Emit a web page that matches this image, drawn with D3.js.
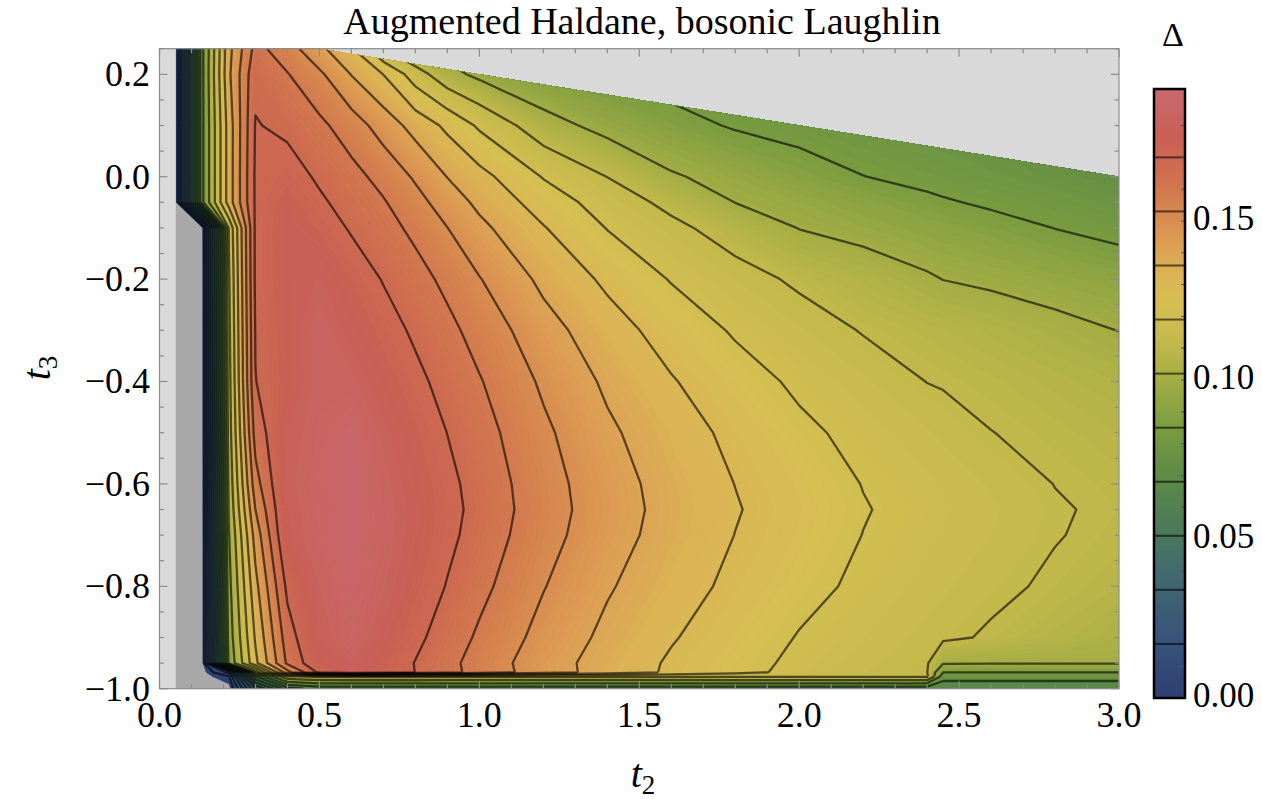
<!DOCTYPE html>
<html><head><meta charset="utf-8">
<script src="https://cdn.jsdelivr.net/npm/d3@7"></script>
<style>
body{margin:0;background:#fff;}
svg{display:block;font-family:"Liberation Serif","Times New Roman",serif;}
</style></head><body>
<svg id="chart" width="1262" height="799"></svg>
<script>
// ---------------- data ----------------
const t2Nodes = [0.05,0.133,0.217,0.3,0.4,0.5,0.6,0.7,0.8,0.9,1.0,1.2,1.4,1.6,1.8,2.0,2.2,2.4,2.45,2.6,2.8,3.0];
const t3Nodes = [0.25,0.2,0.1,0.0,-0.05,-0.1,-0.2,-0.3,-0.4,-0.5,-0.6,-0.65,-0.7,-0.8,-0.9,-0.95,-0.968,-0.976,-1.0];
const gapGrid = [
 [0,0.100,0.142,0.1642,0.1567,0.1466,0.1369,0.1188,0.110,0.1073,0.1047,0.1011,0.0993,0.0975,0.0957,0.0939,0.0922,0.0904,0.0899,0.0886,0.0868,0.085],
 [0,0.100,0.143,0.168,0.1619,0.1546,0.1442,0.1359,0.1232,0.1133,0.1086,0.1033,0.1008,0.0992,0.0976,0.096,0.0944,0.0928,0.0924,0.0912,0.0896,0.088],
 [0,0.100,0.140,0.1705,0.1681,0.1634,0.1572,0.1493,0.1414,0.1342,0.1262,0.1138,0.1078,0.1042,0.1014,0.0998,0.0983,0.0967,0.0963,0.0951,0.0936,0.092],
 [0,0.100,0.140,0.1712,0.1738,0.1687,0.1642,0.1588,0.1519,0.1443,0.1388,0.127,0.1189,0.1113,0.1079,0.1049,0.1021,0.1003,0.0998,0.0985,0.0968,0.095],
 [0,0.100,0.140,0.1711,0.1769,0.1714,0.1666,0.1622,0.1559,0.149,0.1426,0.1323,0.1236,0.1168,0.1104,0.1081,0.1056,0.1032,0.1026,0.1011,0.0993,0.0975],
 [0,0,0.120,0.1715,0.1778,0.1745,0.1691,0.1646,0.1595,0.1531,0.1465,0.1365,0.1272,0.121,0.1153,0.1103,0.1082,0.1061,0.1057,0.1041,0.1019,0.100],
 [0,0,0.118,0.1715,0.1777,0.1804,0.1749,0.1695,0.1647,0.1594,0.1534,0.1426,0.1344,0.127,0.122,0.1177,0.1145,0.1113,0.1104,0.1093,0.1076,0.106],
 [0,0,0.117,0.1705,0.1773,0.184,0.1788,0.1736,0.1686,0.1637,0.1584,0.1477,0.1395,0.1326,0.1266,0.1224,0.1186,0.1166,0.1161,0.1146,0.1125,0.1104],
 [0,0,0.116,0.1698,0.1766,0.1833,0.1828,0.1775,0.1721,0.1671,0.1621,0.1517,0.1431,0.1366,0.1309,0.1261,0.1225,0.1189,0.1185,0.1173,0.1156,0.114],
 [0,0,0.115,0.165,0.180,0.1845,0.1879,0.1813,0.1756,0.1699,0.1648,0.1546,0.1459,0.1396,0.1341,0.1291,0.1254,0.1223,0.1215,0.1191,0.1175,0.116],
 [0,0,0.113,0.158,0.181,0.1855,0.189,0.1834,0.1778,0.1722,0.1667,0.1564,0.1479,0.1414,0.1359,0.1316,0.1273,0.1245,0.1238,0.1217,0.1189,0.1175],
 [0,0,0.112,0.153,0.180,0.1855,0.1885,0.1844,0.1786,0.1729,0.1672,0.1568,0.1484,0.1418,0.1365,0.1322,0.1279,0.1251,0.1244,0.1225,0.1195,0.118],
 [0,0,0.110,0.148,0.179,0.1855,0.1885,0.1842,0.1782,0.1722,0.1664,0.1561,0.1477,0.1414,0.1359,0.1317,0.1274,0.1247,0.124,0.122,0.1193,0.1175],
 [0,0,0.108,0.142,0.172,0.182,0.187,0.1827,0.176,0.1695,0.1638,0.1534,0.1453,0.1394,0.1342,0.1297,0.1261,0.1233,0.1225,0.1204,0.118,0.116],
 [0,0,0.106,0.137,0.166,0.180,0.1855,0.1788,0.172,0.166,0.1602,0.1502,0.1426,0.1366,0.1317,0.1271,0.1241,0.1211,0.1203,0.1182,0.1156,0.113],
 [0,0,0.104,0.134,0.163,0.177,0.182,0.1758,0.1697,0.1639,0.1581,0.1483,0.141,0.135,0.1301,0.126,0.1228,0.1196,0.1112,0.1111,0.111,0.111],
 [0,0,0.020,0.105,0.150,0.172,0.179,0.175,0.1699,0.1641,0.1585,0.1486,0.141,0.1347,0.1297,0.1255,0.1221,0.1192,0.1021,0.1021,0.1021,0.1021],
 [0,0,0.008,0.085,0.118,0.1205,0.1208,0.1208,0.1207,0.1206,0.1206,0.1205,0.1205,0.1205,0.1204,0.1204,0.1203,0.1202,0.098,0.098,0.098,0.098],
 [0,0,0,0.050,0.082,0.088,0.088,0.088,0.088,0.088,0.088,0.088,0.088,0.088,0.088,0.088,0.088,0.088,0.086,0.086,0.086,0.086]
];
// region of the (t2,t3) plane where the gap was computed
const validRegion = [[0.05,0.25],[0.5,0.25],[3.0,0.0],[3.0,-1.0],[0.05,-1.0]];
const lineLevels = [0.0085,0.017,0.0255,0.034,0.0425,0.051,0.0595,0.068,0.0765,0.085,0.0935,0.102,0.1105,0.119,0.1275,0.136,0.1445,0.153,0.1615,0.17];
const legendLevels = [0.017,0.034,0.051,0.068,0.085,0.102,0.119,0.136,0.153,0.17];
const legendTicks = [0,0.05,0.10,0.15];
const xTicks = [0,0.5,1.0,1.5,2.0,2.5,3.0];
const yTicks = [-1.0,-0.8,-0.6,-0.4,-0.2,0.0,0.2];
const gapMax = 0.1915;
const colorStops = [
 [0.000,"#2f3f74"],[0.020,"#39557a"],[0.040,"#436b6f"],[0.055,"#4d7c58"],
 [0.070,"#5d8b46"],[0.085,"#7a9c40"],[0.100,"#a3ad44"],[0.112,"#c3b94b"],
 [0.124,"#d6bf53"],[0.134,"#dcb255"],[0.144,"#dc9b53"],[0.154,"#d6844f"],
 [0.164,"#cf6f4f"],[0.176,"#c96055"],[0.1915,"#c9686e"]
];
// shading of the surface (as it appears in the picture) vs. the gap value
const shadeIn  = [0, 0.094, 0.102, 0.1105, 0.119, 0.136, 0.153, 0.17, 0.1915];
const shadeOut = [0, 0.072, 0.085, 0.100, 0.112, 0.130, 0.150, 0.168, 0.1915];

// ---------------- scales ----------------
const svg = d3.select("#chart");
const x = d3.scaleLinear().domain([0,3]).range([159.5,1119]);
const y = d3.scaleLinear().domain([-1,0.25]).range([688.7,48.7]);
const color = d3.scaleLinear().domain(colorStops.map(d=>d[0])).range(colorStops.map(d=>d[1])).interpolate(d3.interpolateRgb).clamp(true);
const shade = d3.scaleLinear().domain(shadeIn).range(shadeOut).clamp(true);
const nx = t2Nodes.length, ny = t3Nodes.length;
const gx = d3.scaleLinear().domain(d3.range(nx)).range(t2Nodes).clamp(true);
const gy = d3.scaleLinear().domain(d3.range(ny)).range(t3Nodes).clamp(true);
const px = p => x(gx(p[0]-0.5)), py = p => y(gy(p[1]-0.5));
const values = gapGrid.flat();

function fillPath(geom){
  const p = d3.path();
  for (const poly of geom.coordinates) for (const ring of poly){
    ring.forEach((pt,k)=>{ k ? p.lineTo(px(pt),py(pt)) : p.moveTo(px(pt),py(pt)); });
    p.closePath();
  }
  return p.toString();
}
function strokePath(geom){
  const p = d3.path();
  const edge = (a,b) => (a[0]<=0.5&&b[0]<=0.5)||(a[0]>=nx-0.5&&b[0]>=nx-0.5)||(a[1]<=0.5&&b[1]<=0.5)||(a[1]>=ny-0.5&&b[1]>=ny-0.5);
  for (const poly of geom.coordinates) for (const ring of poly){
    for (let k=0;k<ring.length;k++){
      const pt = ring[k];
      if (k===0 || edge(ring[k-1],pt)) p.moveTo(px(pt),py(pt)); else p.lineTo(px(pt),py(pt));
    }
  }
  return p.toString();
}

// ---------------- plot ----------------
svg.append("rect").attr("width",1262).attr("height",799).attr("fill","#fff");
svg.append("rect").attr("x",x(0)).attr("y",y(0.25)).attr("width",x(3)-x(0)).attr("height",y(-1)-y(0.25)).attr("fill","#d9d9d9");

const defs = svg.append("defs");
defs.append("clipPath").attr("id","valid").append("polygon")
  .attr("points", validRegion.map(d=>[x(d[0]),y(d[1])].join(",")).join(" "));

const data = svg.append("g").attr("clip-path","url(#valid)");
data.append("polygon").attr("points", validRegion.map(d=>[x(d[0]),y(d[1])].join(",")).join(" ")).attr("fill","#a9a9a9");

const fillLevels = d3.range(0.003, gapMax, 0.001);
const bands = d3.contours().size([nx,ny]).thresholds(fillLevels)(values);
data.append("g").selectAll("path").data(bands).join("path")
  .attr("d", fillPath).attr("fill", d=>color(shade(d.value+0.0005))).attr("fill-rule","evenodd")
  .attr("stroke", d=>color(shade(d.value+0.0005))).attr("stroke-width",0.3);

const lines = d3.contours().size([nx,ny]).thresholds(lineLevels)(values);
data.append("g").selectAll("path").data(lines).join("path")
  .attr("d", strokePath).attr("fill","none").attr("stroke","#000").attr("stroke-opacity",0.6)
  .attr("stroke-width",2.3).attr("stroke-linejoin","round");

// frame and ticks
const fr = svg.append("g").attr("stroke","#8c8c8c").attr("stroke-width",1.2).attr("fill","none");
fr.append("rect").attr("x",x(0)).attr("y",y(0.25)).attr("width",x(3)-x(0)).attr("height",y(-1)-y(0.25));
const isMajor = (v,s)=>Math.abs(v/s-Math.round(v/s))<1e-6;
d3.range(0,3.0001,0.1).forEach(v=>{
  const L = isMajor(v,0.5)?8:4.5;
  fr.append("line").attr("x1",x(v)).attr("x2",x(v)).attr("y1",y(-1)).attr("y2",y(-1)-L);
  fr.append("line").attr("x1",x(v)).attr("x2",x(v)).attr("y1",y(0.25)).attr("y2",y(0.25)+L);
});
d3.range(-1,0.2501,0.05).forEach(v=>{
  const L = isMajor(v+1,0.2)?8:4.5;
  fr.append("line").attr("y1",y(v)).attr("y2",y(v)).attr("x1",x(0)).attr("x2",x(0)+L);
  fr.append("line").attr("y1",y(v)).attr("y2",y(v)).attr("x1",x(3)).attr("x2",x(3)-L);
});

const f1 = d3.format(".1f"), f2 = d3.format(".2f");
svg.append("g").selectAll("text").data(xTicks).join("text")
  .attr("x",d=>x(d)).attr("y",727).attr("text-anchor","middle").attr("font-size",36).text(f1);
svg.append("g").selectAll("text").data(yTicks).join("text")
  .attr("x",150).attr("y",d=>y(d)).attr("dy","0.33em").attr("text-anchor","end").attr("font-size",36).text(f1);

svg.append("text").attr("x",642).attr("y",34).attr("text-anchor","middle").attr("font-size",38)
  .text("Augmented Haldane, bosonic Laughlin");

const xl = svg.append("text").attr("x",643).attr("y",787).attr("text-anchor","middle").attr("font-size",40);
xl.append("tspan").attr("font-style","italic").text("t");
xl.append("tspan").attr("font-size",27).attr("dy",7).text("2");
const yl = svg.append("text").attr("transform","translate(50,368) rotate(-90)").attr("text-anchor","middle").attr("font-size",40);
yl.append("tspan").attr("font-style","italic").text("t");
yl.append("tspan").attr("font-size",27).attr("dy",7).text("3");

// ---------------- colour bar ----------------
const lg = d3.scaleLinear().domain([0,gapMax]).range([698,89]);
const grad = defs.append("linearGradient").attr("id","bar").attr("x1",0).attr("y1",1).attr("x2",0).attr("y2",0);
d3.range(0,1.0001,0.02).forEach(t=>grad.append("stop").attr("offset",t).attr("stop-color",color(t*gapMax)));
svg.append("rect").attr("x",1154).attr("y",lg(gapMax)).attr("width",31).attr("height",lg(0)-lg(gapMax)).attr("fill","url(#bar)");
svg.append("g").selectAll("line").data(legendLevels).join("line")
  .attr("x1",1154).attr("x2",1185).attr("y1",d=>lg(d)).attr("y2",d=>lg(d))
  .attr("stroke","#000").attr("stroke-opacity",0.6).attr("stroke-width",2);
svg.append("g").selectAll("line").data(d3.range(0.01,0.19,0.01)).join("line")
  .attr("x1",1185).attr("x2",1181).attr("y1",d=>lg(d)).attr("y2",d=>lg(d))
  .attr("stroke","#555").attr("stroke-width",1);
svg.append("rect").attr("x",1154).attr("y",lg(gapMax)).attr("width",31).attr("height",lg(0)-lg(gapMax))
  .attr("fill","none").attr("stroke","#000").attr("stroke-width",2.5);
svg.append("g").selectAll("text").data(legendTicks).join("text")
  .attr("x",1193).attr("y",d=>lg(d)-3).attr("dy","0.35em").attr("font-size",35).text(f2);
svg.append("text").attr("x",1173).attr("y",46).attr("text-anchor","middle").attr("font-size",34).text("Δ");
</script>
</body></html>
